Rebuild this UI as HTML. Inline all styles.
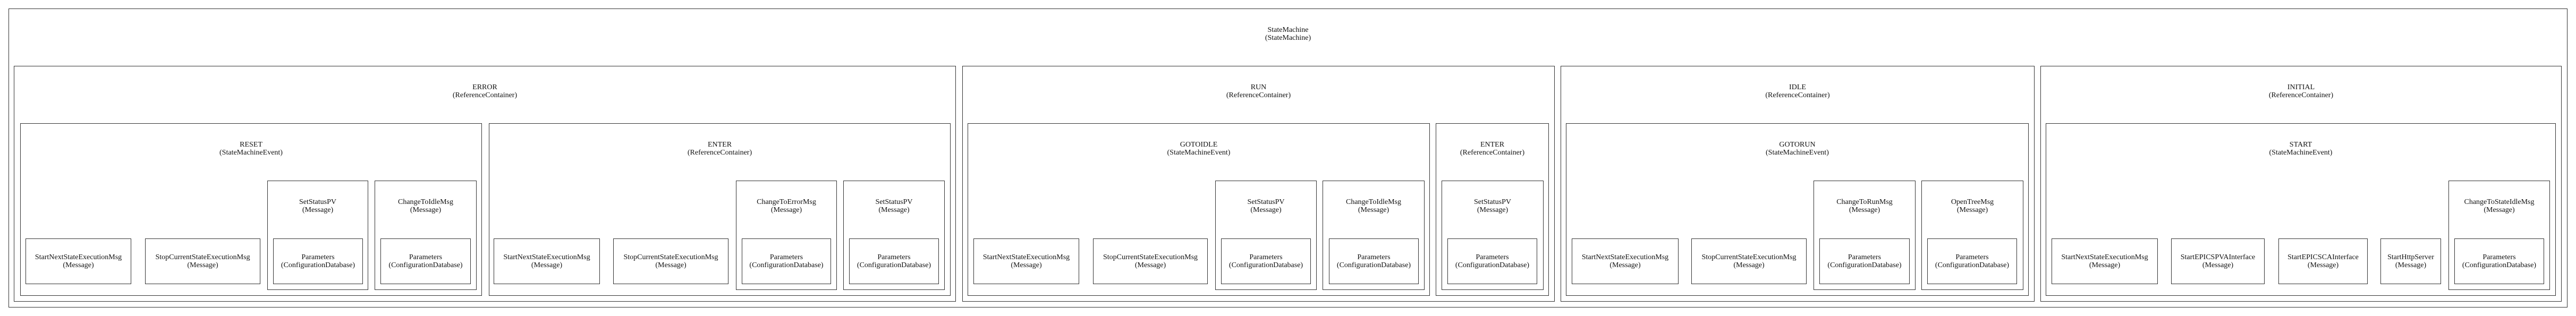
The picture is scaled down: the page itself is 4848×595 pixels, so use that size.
<!DOCTYPE html>
<html><head><meta charset="utf-8">
<style>
html,body{margin:0;padding:0;background:#fff;}
body{width:4848px;height:595px;position:relative;overflow:hidden;font-family:"Liberation Serif",serif;font-size:14px;color:#111;}
.b{position:absolute;box-sizing:border-box;border:1px solid #333;}
.c .t{position:absolute;left:0;right:0;top:32px;text-align:center;line-height:15px;white-space:nowrap;}
.l{display:flex;align-items:center;justify-content:center;text-align:center;line-height:15px;white-space:nowrap;}
</style></head><body>
<div class="b c" style="left:16px;top:16px;width:4816px;height:563px"><div class="t">StateMachine<br>(StateMachine)</div></div>

<div class="b c" style="left:26px;top:124px;width:1773px;height:444px"><div class="t">ERROR<br>(ReferenceContainer)</div></div>
<div class="b c" style="left:38px;top:232px;width:869px;height:325px"><div class="t">RESET<br>(StateMachineEvent)</div></div>
<div class="b l" style="left:48px;top:449px;width:199px;height:86px">StartNextStateExecutionMsg<br>(Message)</div>
<div class="b l" style="left:273px;top:449px;width:217px;height:86px">StopCurrentStateExecutionMsg<br>(Message)</div>
<div class="b c" style="left:503px;top:340px;width:190px;height:206px"><div class="t">SetStatusPV<br>(Message)</div></div>
<div class="b l" style="left:514px;top:449px;width:169px;height:86px">Parameters<br>(ConfigurationDatabase)</div>
<div class="b c" style="left:705px;top:340px;width:192px;height:206px"><div class="t">ChangeToIdleMsg<br>(Message)</div></div>
<div class="b l" style="left:716px;top:449px;width:170px;height:86px">Parameters<br>(ConfigurationDatabase)</div>

<div class="b c" style="left:920px;top:232px;width:869px;height:325px"><div class="t">ENTER<br>(ReferenceContainer)</div></div>
<div class="b l" style="left:929px;top:449px;width:200px;height:86px">StartNextStateExecutionMsg<br>(Message)</div>
<div class="b l" style="left:1154px;top:449px;width:217px;height:86px">StopCurrentStateExecutionMsg<br>(Message)</div>
<div class="b c" style="left:1385px;top:340px;width:190px;height:206px"><div class="t">ChangeToErrorMsg<br>(Message)</div></div>
<div class="b l" style="left:1396px;top:449px;width:168px;height:86px">Parameters<br>(ConfigurationDatabase)</div>
<div class="b c" style="left:1587px;top:340px;width:191px;height:206px"><div class="t">SetStatusPV<br>(Message)</div></div>
<div class="b l" style="left:1598px;top:449px;width:169px;height:86px">Parameters<br>(ConfigurationDatabase)</div>

<div class="b c" style="left:1811px;top:124px;width:1115px;height:444px"><div class="t">RUN<br>(ReferenceContainer)</div></div>
<div class="b c" style="left:1821px;top:232px;width:870px;height:325px"><div class="t">GOTOIDLE<br>(StateMachineEvent)</div></div>
<div class="b l" style="left:1832px;top:449px;width:199px;height:86px">StartNextStateExecutionMsg<br>(Message)</div>
<div class="b l" style="left:2057px;top:449px;width:216px;height:86px">StopCurrentStateExecutionMsg<br>(Message)</div>
<div class="b c" style="left:2287px;top:340px;width:191px;height:206px"><div class="t">SetStatusPV<br>(Message)</div></div>
<div class="b l" style="left:2298px;top:449px;width:169px;height:86px">Parameters<br>(ConfigurationDatabase)</div>
<div class="b c" style="left:2489px;top:340px;width:192px;height:206px"><div class="t">ChangeToIdleMsg<br>(Message)</div></div>
<div class="b l" style="left:2501px;top:449px;width:169px;height:86px">Parameters<br>(ConfigurationDatabase)</div>
<div class="b c" style="left:2702px;top:232px;width:213px;height:325px"><div class="t">ENTER<br>(ReferenceContainer)</div></div>
<div class="b c" style="left:2713px;top:340px;width:192px;height:206px"><div class="t">SetStatusPV<br>(Message)</div></div>
<div class="b l" style="left:2724px;top:449px;width:169px;height:86px">Parameters<br>(ConfigurationDatabase)</div>

<div class="b c" style="left:2937px;top:124px;width:892px;height:444px"><div class="t">IDLE<br>(ReferenceContainer)</div></div>
<div class="b c" style="left:2947px;top:232px;width:871px;height:325px"><div class="t">GOTORUN<br>(StateMachineEvent)</div></div>
<div class="b l" style="left:2958px;top:449px;width:201px;height:86px">StartNextStateExecutionMsg<br>(Message)</div>
<div class="b l" style="left:3183px;top:449px;width:217px;height:86px">StopCurrentStateExecutionMsg<br>(Message)</div>
<div class="b c" style="left:3413px;top:340px;width:192px;height:206px"><div class="t">ChangeToRunMsg<br>(Message)</div></div>
<div class="b l" style="left:3424px;top:449px;width:170px;height:86px">Parameters<br>(ConfigurationDatabase)</div>
<div class="b c" style="left:3616px;top:340px;width:192px;height:206px"><div class="t">OpenTreeMsg<br>(Message)</div></div>
<div class="b l" style="left:3627px;top:449px;width:169px;height:86px">Parameters<br>(ConfigurationDatabase)</div>

<div class="b c" style="left:3840px;top:124px;width:981px;height:444px"><div class="t">INITIAL<br>(ReferenceContainer)</div></div>
<div class="b c" style="left:3850px;top:232px;width:960px;height:325px"><div class="t">START<br>(StateMachineEvent)</div></div>
<div class="b l" style="left:3861px;top:449px;width:200px;height:86px">StartNextStateExecutionMsg<br>(Message)</div>
<div class="b l" style="left:4086px;top:449px;width:176px;height:86px">StartEPICSPVAInterface<br>(Message)</div>
<div class="b l" style="left:4288px;top:449px;width:168px;height:86px">StartEPICSCAInterface<br>(Message)</div>
<div class="b l" style="left:4480px;top:449px;width:114px;height:86px">StartHttpServer<br>(Message)</div>
<div class="b c" style="left:4608px;top:340px;width:191px;height:206px"><div class="t">ChangeToStateIdleMsg<br>(Message)</div></div>
<div class="b l" style="left:4619px;top:449px;width:169px;height:86px">Parameters<br>(ConfigurationDatabase)</div>
</body></html>
